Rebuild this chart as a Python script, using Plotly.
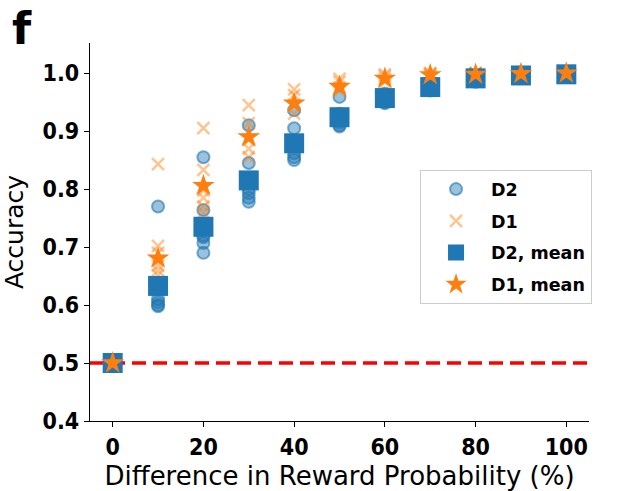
import plotly.graph_objects as go

# Reward-probability differences (%)
diff_levels = [0, 10, 20, 30, 40, 50, 60, 70, 80, 90, 100]

# Per-run accuracies for each difference level
d2_runs = [
    [0.5, 0.5, 0.5],
    [0.77, 0.628, 0.61, 0.605, 0.60, 0.598],
    [0.855, 0.764, 0.72, 0.717, 0.707, 0.69],
    [0.91, 0.845, 0.80, 0.793, 0.785, 0.778],
    [0.936, 0.905, 0.862, 0.855, 0.85],
    [0.959, 0.93, 0.915, 0.91, 0.908],
    [0.965, 0.955, 0.95, 0.948],
    [0.985, 0.978, 0.972, 0.97],
    [0.995, 0.992, 0.988, 0.985],
    [0.999, 0.997, 0.995, 0.993],
    [1.0, 0.999, 0.998, 0.997],
]
d1_runs = [
    [0.5],
    [0.843, 0.702, 0.69, 0.668, 0.66, 0.652],
    [0.905, 0.833, 0.798, 0.785, 0.77, 0.76],
    [0.945, 0.914, 0.885, 0.87, 0.855],
    [0.972, 0.962, 0.945, 0.93],
    [0.99, 0.985, 0.975, 0.97],
    [0.998, 0.995, 0.99, 0.985],
    [1.0, 0.999, 0.997, 0.995],
    [1.0, 1.0, 0.999, 0.998],
    [1.0, 1.0, 1.0, 0.999],
    [1.0, 1.0, 1.0, 1.0],
]

# Mean accuracy per difference level
d2_mean = [0.5, 0.633, 0.735, 0.815, 0.879, 0.924, 0.957, 0.976, 0.991, 0.996, 0.998]
d1_mean = [0.5, 0.681, 0.806, 0.89, 0.948, 0.977, 0.991, 0.997, 0.998, 0.999, 1.0]

chance_level = 0.5

x_ticks = [0, 20, 40, 60, 80, 100]
y_ticks = [0.4, 0.5, 0.6, 0.7, 0.8, 0.9, 1.0]

BLUE = "#1f77b4"
ORANGE = "#ff7f0e"
TICK_FONT = "DejaVu Sans Condensed, DejaVu Sans"


def flatten(levels, runs):
    xs, ys = [], []
    for lv, vals in zip(levels, runs):
        xs.extend([lv] * len(vals))
        ys.extend(vals)
    return xs, ys


d2_x, d2_y = flatten(diff_levels, d2_runs)
d1_x, d1_y = flatten(diff_levels, d1_runs)

fig = go.Figure()

# chance line
fig.add_trace(go.Scatter(
    x=[-5, 105], y=[chance_level, chance_level], mode="lines",
    line=dict(color="red", width=3.5, dash="14px,7px"),
    showlegend=False, hoverinfo="skip",
))

fig.add_trace(go.Scatter(
    x=d2_x, y=d2_y, mode="markers", name="D2", legendgroup="a",
    marker=dict(symbol="circle", size=12, color="rgba(31,119,180,0.45)",
                line=dict(color="rgba(31,119,180,0.6)", width=2)),
))
fig.add_trace(go.Scatter(
    x=d1_x, y=d1_y, mode="markers", name="D1", legendgroup="b",
    marker=dict(symbol="x-thin", size=12, color=ORANGE, opacity=0.45,
                line=dict(color=ORANGE, width=2.5)),
))
fig.add_trace(go.Scatter(
    x=diff_levels, y=d2_mean, mode="markers", name="D2, mean", legendgroup="c",
    marker=dict(symbol="square", size=20, color=BLUE,
                line=dict(color=BLUE, width=0)),
))
fig.add_trace(go.Scatter(
    x=diff_levels, y=d1_mean, mode="markers", name="D1, mean", legendgroup="d",
    marker=dict(symbol="star", size=17, color=ORANGE,
                line=dict(color=ORANGE, width=0)),
))

axis_common = dict(
    showline=True, linecolor="black", linewidth=1.3,
    ticks="outside", ticklen=5, tickwidth=1.3, tickcolor="black",
    showgrid=False, zeroline=False, mirror=False, automargin=False,
    tickfont=dict(family=TICK_FONT, size=23, color="black", weight="bold"),
)

fig.update_xaxes(
    range=[-5, 105], tickvals=x_ticks, ticktext=[str(v) for v in x_ticks],
    title=dict(text="Difference in Reward Probability (%)",
               font=dict(family="DejaVu Sans", size=26, color="black")),
    **axis_common,
)
fig.update_yaxes(
    range=[0.4, 1.052], tickvals=y_ticks, ticktext=[f"{v:.1f}" for v in y_ticks],
    title=dict(text="Accuracy",
               font=dict(family="DejaVu Sans", size=25, color="black")),
    **axis_common,
)

# panel letter
fig.add_annotation(
    text="<b>f</b>", xref="paper", yref="paper", x=-0.16, y=1.112,
    xanchor="left", yanchor="top", showarrow=False,
    font=dict(family="DejaVu Sans", size=44, color="black"),
)

fig.update_layout(
    width=626, height=491,
    margin=dict(l=90, r=37, t=43, b=70),
    plot_bgcolor="white", paper_bgcolor="white",
    legend=dict(
        x=0.661, y=0.664, xanchor="left", yanchor="top",
        bordercolor="#cccccc", borderwidth=1.2, bgcolor="white",
        font=dict(family="DejaVu Sans", size=17.5, color="black", weight="bold"),
        tracegroupgap=6, itemwidth=60,
    ),
)

fig.write_html("out.html")
